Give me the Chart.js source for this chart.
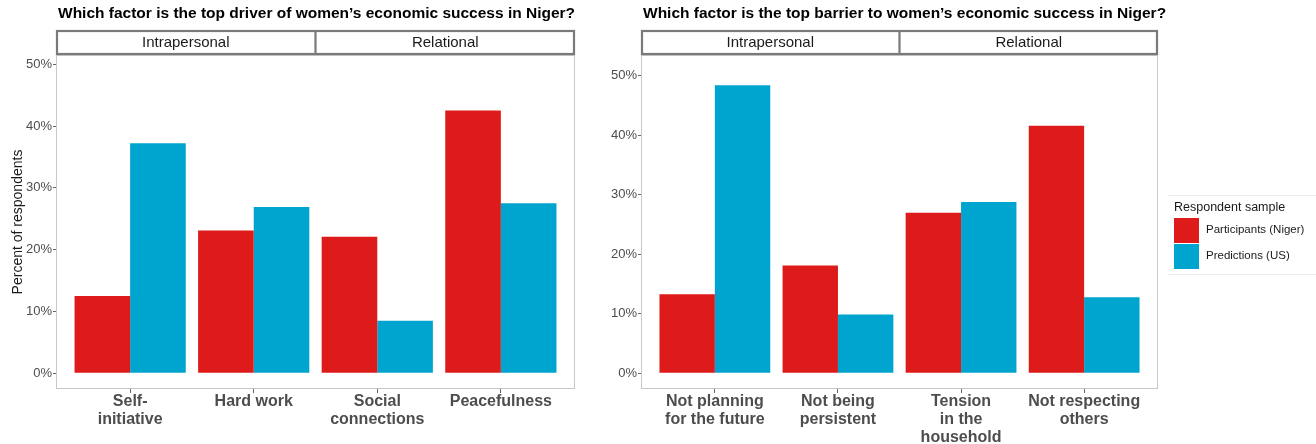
<!DOCTYPE html>
<html>
<head>
<meta charset="utf-8">
<script src="https://cdn.jsdelivr.net/npm/chart.js@4.4.1/dist/chart.umd.min.js"></script>
<style>
  html, body { margin: 0; padding: 0; background: #fff; }
  body { width: 1316px; height: 444px; position: relative; overflow: hidden; font-family: 'Liberation Sans', Arial, Helvetica, sans-serif; }
  .wrap { position: absolute; top: 0; height: 444px; }
  #legend { position: absolute; left: 1168px; top: 195px; width: 148px; height: 78px; border-top: 1px solid #ebebeb; border-bottom: 1px solid #ebebeb; }
  #legend .ttl { position: absolute; left: 6px; top: 4px; font-size: 12.5px; color: #1a1a1a; }
  #legend .row { position: absolute; left: 6px; height: 26px; }
  #legend .key { position: absolute; left: 0; top: 0; width: 25px; height: 25px; }
  #legend .lab { position: absolute; left: 32px; top: 5px; font-size: 11.5px; color: #1a1a1a; white-space: nowrap; }
</style>
</head>
<body>
<div class="wrap" style="left:0; width:590px;"><canvas id="driver"></canvas></div>
<div class="wrap" style="left:590px; width:590px;"><canvas id="barrier"></canvas></div>
<div id="legend"></div>
<script>
// données (% des répondants)
const driverCategories = [['Self-', 'initiative'], ['Hard work'], ['Social', 'connections'], ['Peacefulness']];
const barrierCategories = [['Not planning', 'for the future'], ['Not being', 'persistent'], ['Tension', 'in the', 'household'], ['Not respecting', 'others']];
const facetNames = ['Intrapersonal', 'Relational'];
const seriesNames = ['Participants (Niger)', 'Predictions (US)'];
const driverNiger = [12.5, 23.1, 22.1, 42.5];
const driverUS = [37.2, 26.9, 8.5, 27.5];
const barrierNiger = [13.3, 18.1, 27.0, 41.6];
const barrierUS = [48.4, 9.9, 28.8, 12.8];
const yTicks = [0, 10, 20, 30, 40, 50];

const colors = ['#DE1B1B', '#00A5CF'];
const FONT = "'Liberation Sans', Arial, Helvetica, sans-serif";

// titre + bandeaux de facettes + cadre du panneau
const panelDeco = {
  id: 'panelDeco',
  afterDraw(chart, args, opts) {
    const ctx = chart.ctx;
    const a = chart.chartArea;
    ctx.save();
    // cadre
    ctx.strokeStyle = '#c8c8c8';
    ctx.lineWidth = 1;
    ctx.strokeRect(a.left + 0.5, a.top + 0.5, a.right - a.left - 1, a.bottom - a.top - 1);
    // titre
    ctx.fillStyle = '#000';
    ctx.font = 'bold 15.5px ' + FONT;
    ctx.textBaseline = 'middle';
    ctx.textAlign = 'left';
    ctx.fillText(opts.title, a.left + 2, 14);
    // bandeaux
    const top = 30, h = 24;
    const mid = (a.left + a.right) / 2;
    ctx.strokeStyle = '#7a7a7a';
    ctx.lineWidth = 2.2;
    ctx.fillStyle = '#fff';
    ctx.fillRect(a.left, top, a.right - a.left, h);
    ctx.strokeRect(a.left + 1, top + 1, a.right - a.left - 2, h - 1);
    ctx.beginPath();
    ctx.moveTo(mid, top + 1);
    ctx.lineTo(mid, top + h);
    ctx.stroke();
    ctx.fillStyle = '#1a1a1a';
    ctx.font = '15px ' + FONT;
    ctx.textAlign = 'center';
    ctx.fillText(facetNames[0], (a.left + mid) / 2, top + h / 2 + 1);
    ctx.fillText(facetNames[1], (mid + a.right) / 2, top + h / 2 + 1);
    ctx.restore();
  }
};

function makeChart(id, title, cats, niger, us, yMin, yMax, yWidth, padRight, yTitle) {
  return new Chart(document.getElementById(id), {
    type: 'bar',
    data: {
      datasets: [
        { label: seriesNames[0], data: niger.map((v, i) => ({ x: i + 1, y: v })), backgroundColor: colors[0], borderWidth: 0 },
        { label: seriesNames[1], data: us.map((v, i) => ({ x: i + 1, y: v })), backgroundColor: colors[1], borderWidth: 0 }
      ]
    },
    options: {
      responsive: false,
      animation: false,
      devicePixelRatio: 1,
      layout: { padding: { top: 55, right: padRight, left: 0, bottom: 0 } },
      datasets: { bar: { categoryPercentage: 0.9, barPercentage: 1.0 } },
      plugins: {
        legend: { display: false },
        tooltip: { enabled: false },
        panelDeco: { title: title }
      },
      scales: {
        x: {
          type: 'linear',
          min: 0.4,
          max: cats.length + 0.6,
          offset: false,
          afterBuildTicks: (axis) => { axis.ticks = cats.map((c, i) => ({ value: i + 1 })); },
          afterFit: (axis) => { axis.height = 55; },
          ticks: {
            autoSkip: false,
            maxRotation: 0,
            padding: 0,
            color: '#4d4d4d',
            font: { family: FONT, size: 16, weight: 'bold', lineHeight: 1.12 },
            callback: (v) => cats[Math.round(v) - 1]
          },
          grid: { display: true, drawOnChartArea: false, drawTicks: true, tickLength: 4, color: '#666', offset: false },
          border: { display: false }
        },
        y: {
          min: yMin,
          max: yMax,
          afterBuildTicks: (axis) => { axis.ticks = yTicks.map(v => ({ value: v })); },
          afterFit: (axis) => { axis.width = yWidth; },
          ticks: {
            padding: 1,
            color: '#4d4d4d',
            font: { family: FONT, size: 13 },
            callback: (v) => v + '%'
          },
          grid: { display: true, drawOnChartArea: false, drawTicks: true, tickLength: 3, color: '#666' },
          border: { display: false },
          title: {
            display: !!yTitle,
            text: yTitle || '',
            color: '#1a1a1a',
            font: { family: FONT, size: 14 },
            padding: { top: 10, bottom: 0 }
          }
        }
      }
    },
    plugins: [panelDeco]
  });
}

function sizeCanvas(id, w, h) {
  const c = document.getElementById(id);
  c.width = w; c.height = h;
  c.style.width = w + 'px'; c.style.height = h + 'px';
}
sizeCanvas('driver', 590, 444);
sizeCanvas('barrier', 590, 444);

makeChart('driver', 'Which factor is the top driver of women\u2019s economic success in Niger?',
  driverCategories, driverNiger, driverUS, -2.55, 51.5, 56, 15, 'Percent of respondents');
makeChart('barrier', 'Which factor is the top barrier to women\u2019s economic success in Niger?',
  barrierCategories, barrierNiger, barrierUS, -2.64, 53.5, 51, 22, null);

// légende
const legend = document.getElementById('legend');
let html = '<div class="ttl">Respondent sample</div>';
seriesNames.forEach((name, i) => {
  html += '<div class="row" style="top:' + (22 + i * 26) + 'px"><div class="key" style="background:' + colors[i] + '"></div><div class="lab">' + name + '</div></div>';
});
legend.innerHTML = html;
</script>
</body>
</html>
